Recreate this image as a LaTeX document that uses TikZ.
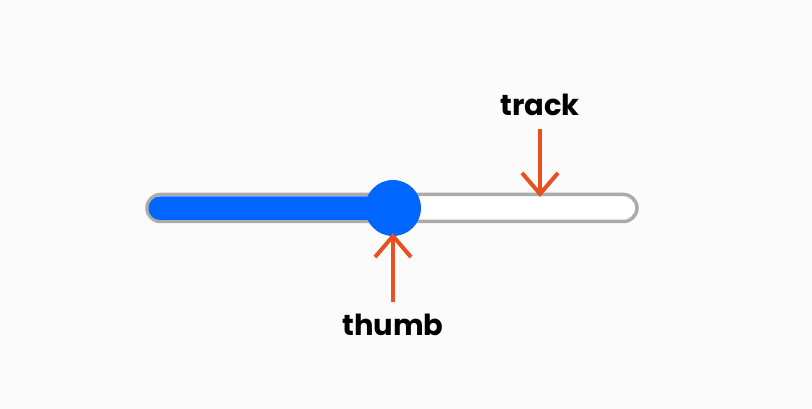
\documentclass[tikz,border=0pt]{standalone}
\usepackage{fontspec}
\setmainfont{Poppins}
\usetikzlibrary{arrows.meta,positioning}
\definecolor{bgcol}{HTML}{FBFBFB}
\definecolor{trackgray}{HTML}{ABABAB}
\definecolor{thumbblue}{HTML}{0066FF}
\definecolor{pointred}{HTML}{E85020}
\begin{document}
\begin{tikzpicture}[x=1pt,y=-1pt]
\tikzstyle{every node}+=[inner sep=0pt]
\tikzstyle{pointer}=[pointred,line width=4pt,-{Straight Barb[length=21pt,width=36pt]}]
\tikzstyle{label}=[font=\fontsize{29}{29}\selectfont\bfseries,text=black]
\fill [bgcol] (0,0) rectangle (812,409);
\useasboundingbox (0,0) rectangle (812,409);
\node [draw=trackgray,fill=white,line width=3.5pt,rounded corners=13.5pt,minimum width=490pt,minimum height=27pt] (track) at (392,208) {};
\fill [thumbblue,rounded corners=11.5pt] (148.5,196.5) rectangle (395,220);
\node [circle,fill=thumbblue,minimum size=56pt] (thumb) at (393,208) {};
\node [label] (tracklabel) at (540,105) {track};
\node [label] (thumblabel) at (393,325) {thumb};
\coordinate (trackend) at (540,197);
\coordinate (thumbend) at (393,233);
\draw [pointer] (540,129) -- (trackend);
\draw [pointer] (393,302) -- (thumbend);
\end{tikzpicture}
\end{document}
